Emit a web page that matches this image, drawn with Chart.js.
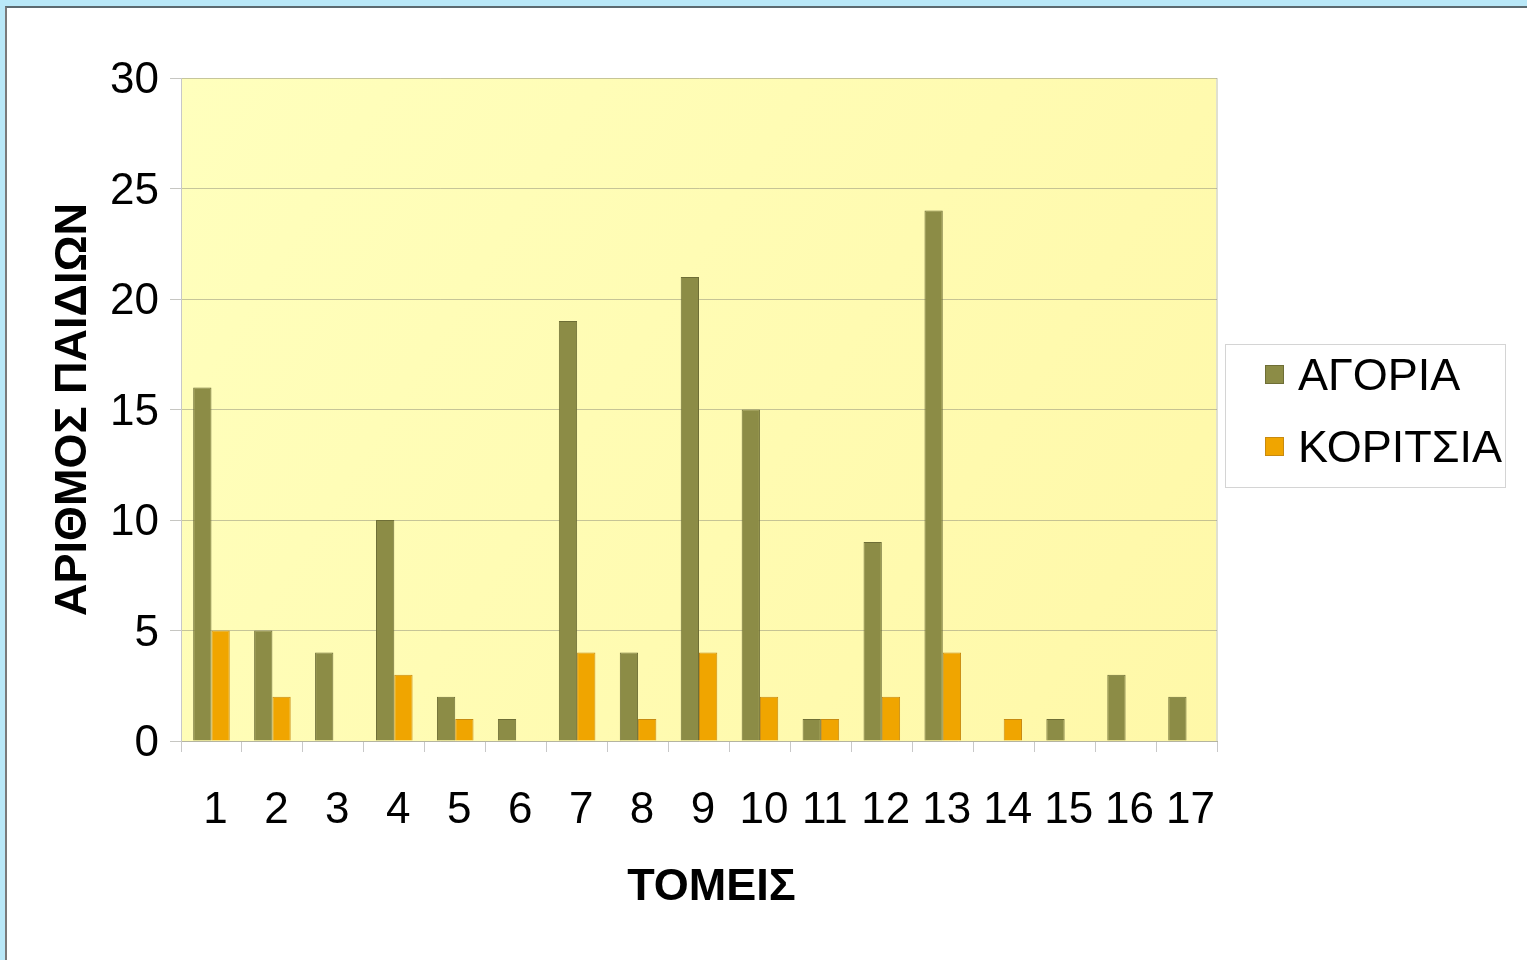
<!DOCTYPE html>
<html>
<head>
<meta charset="utf-8">
<script src="https://cdn.jsdelivr.net/npm/chart.js@4.4.0/dist/chart.umd.min.js"></script>
<style>
  html, body { margin: 0; padding: 0; background: #b9e8f8; width: 1527px; height: 960px; overflow: hidden; }
  #frame { position: absolute; left: 5px; top: 6px; right: 0; bottom: 0; background: #fff;
           border-left: 2px solid #7a7a7a; border-top: 2px solid #5c6a70; }
  #wrap { position: absolute; left: 0; top: 0; width: 1527px; height: 960px; }
</style>
</head>
<body>
<div id="frame"></div>
<div id="wrap"><canvas id="sectorChart" width="1527" height="960"></canvas></div>
<script>
// categories and values
const sectors = ['1','2','3','4','5','6','7','8','9','10','11','12','13','14','15','16','17'];
const boys  = [16, 5, 4, 10, 2, 1, 19, 4, 21, 15, 1, 9, 24, 0, 1, 3, 2];
const girls = [5, 2, 0, 3, 1, 0, 4, 1, 4, 2, 1, 2, 4, 1, 0, 0, 0];
const yTicks = [0, 5, 10, 15, 20, 25, 30];

const FONT = "'Liberation Sans', Arial, sans-serif";

// yellow plot background + right border
const plotBg = {
  id: 'plotBg',
  beforeDraw(chart) {
    const {ctx, chartArea: a} = chart;
    const g = ctx.createLinearGradient(a.left, a.top, a.right, a.bottom);
    g.addColorStop(0, '#ffffbd');
    g.addColorStop(1, '#fff8a8');
    ctx.save();
    ctx.fillStyle = g;
    ctx.fillRect(a.left, a.top, a.right - a.left, a.bottom - a.top);
    ctx.strokeStyle = '#e0e0d0';
    ctx.lineWidth = 2;
    ctx.beginPath();
    ctx.moveTo(a.right, a.top);
    ctx.lineTo(a.right, a.bottom);
    ctx.stroke();
    ctx.restore();
  }
};

// boxed legend on the right
const boxLegend = {
  id: 'boxLegend',
  afterDraw(chart) {
    const {ctx} = chart;
    ctx.save();
    ctx.strokeStyle = '#d4d4d4';
    ctx.lineWidth = 1;
    ctx.strokeRect(1225.5, 344.5, 280, 143);
    ctx.font = '45px ' + FONT;
    ctx.textBaseline = 'middle';
    chart.data.datasets.forEach((ds, i) => {
      const y = 375 + i * 72;
      ctx.fillStyle = ds.backgroundColor;
      ctx.fillRect(1265, y - 10, 19, 19);
      ctx.strokeStyle = ds.borderColor;
      ctx.strokeRect(1265.5, y - 9.5, 18, 18);
      ctx.fillStyle = '#000';
      ctx.fillText(ds.label, 1298, y + 3);
    });
    ctx.restore();
  }
};

const ctx = document.getElementById('sectorChart').getContext('2d');
const sectorChart = new Chart(ctx, {
  type: 'bar',
  data: {
    labels: sectors,
    datasets: [
      { label: 'ΑΓΟΡΙΑ', data: boys, backgroundColor: '#8c8c46', borderColor: '#6e6e36', borderWidth: 1 },
      { label: 'ΚΟΡΙΤΣΙΑ', data: girls, backgroundColor: '#f0a500', borderColor: '#c88a10', borderWidth: 1 }
    ]
  },
  options: {
    responsive: false,
    animation: false,
    layout: { padding: { left: 47, top: 78, right: 310, bottom: 0 } },
    datasets: { bar: { categoryPercentage: 0.6, barPercentage: 1.0 } },
    plugins: { legend: { display: false }, tooltip: { enabled: false } },
    scales: {
      x: {
        afterFit(s) { s.height = 219; },
        grid: { drawOnChartArea: false, drawTicks: true, tickLength: 11, color: '#c8c8c8' },
        border: { color: '#b4b4a0', width: 1 },
        ticks: { color: '#000', font: { family: FONT, size: 44 }, padding: 32, labelOffset: 4, maxRotation: 0, autoSkip: false },
        title: { display: true, text: '\u00a0\u00a0ΤΟΜΕΙΣ', color: '#000', font: { family: FONT, size: 45, weight: 'bold' },
                 padding: { top: 0, bottom: 45 } }
      },
      y: {
        min: 0, max: 30,
        afterFit(s) { s.width = 134; },
        afterBuildTicks(s) { s.ticks = yTicks.map(v => ({ value: v })); },
        grid: { color: 'rgba(120,120,110,0.42)', tickLength: 11 },
        border: { color: '#c8c8c8', width: 1 },
        ticks: { color: '#000', font: { family: FONT, size: 44 }, padding: 11, labelOffset: 3 },
        title: { display: true, text: 'ΑΡΙΘΜΟΣ ΠΑΙΔΙΩΝ', color: '#000', font: { family: FONT, size: 45, weight: 'bold' },
                 padding: { top: 0, bottom: 0 } }
      }
    }
  },
  plugins: [plotBg, boxLegend]
});
</script>
</body>
</html>
